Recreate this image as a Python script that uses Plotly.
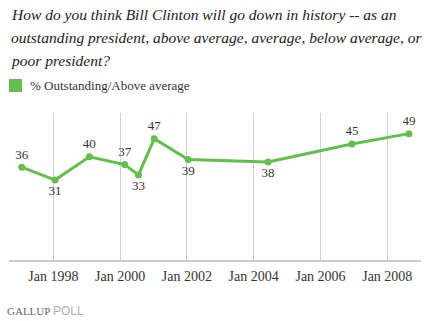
import plotly.graph_objects as go

dates = ["1997-01-20", "1998-01-20", "1999-01-30", "2000-02-20", "2000-07-20",
         "2001-01-08", "2002-01-15", "2004-06-07", "2006-12-10", "2008-08-25"]
values = [36, 31, 40, 37, 33, 47, 39, 38, 45, 49]
label_pos = ["top center", "bottom center", "top center", "top center", "bottom center",
             "top center", "bottom center", "bottom center", "top center", "top center"]
series_name = "% Outstanding/Above average"
title_lines = ["How do you think Bill Clinton will go down in history -- as an",
               "outstanding president, above average, average, below average, or",
               "poor president?"]

GREEN = "#63be4f"
SERIF = "Liberation Serif"

W, H = 434, 321
L, R, T, B = 9, 13, 113, 61
PW, PH = W - L - R, H - T - B

def px_x(px):
    return (px - L) / PW

def px_y(py):
    return (H - B - py) / PH

fig = go.Figure()
fig.add_trace(go.Scatter(
    x=dates, y=values, mode="lines+markers+text",
    text=[str(v) for v in values], textposition=label_pos,
    textfont=dict(family=SERIF, size=13, color="#333333"),
    line=dict(color=GREEN, width=3),
    marker=dict(color=GREEN, size=7),
    name=series_name, showlegend=False, cliponaxis=False,
))

annotations = []
for i, line in enumerate(title_lines):
    annotations.append(dict(
        text="<i>" + line + "</i>", xref="paper", yref="paper",
        x=px_x(9), y=px_y(15 + 22.5 * i), xanchor="left", yanchor="middle",
        showarrow=False, font=dict(family=SERIF, size=15.5, color="#222222"),
    ))
annotations.append(dict(
    text=series_name, xref="paper", yref="paper",
    x=px_x(28), y=px_y(85), xanchor="left", yanchor="middle",
    showarrow=False, font=dict(family=SERIF, size=13, color="#333333"),
))
annotations.append(dict(
    text="GALLUP", xref="paper", yref="paper", x=px_x(5), y=px_y(310.5),
    xanchor="left", yanchor="middle", showarrow=False,
    font=dict(family=SERIF, size=11, color="#666666"),
))
annotations.append(dict(
    text="POLL", xref="paper", yref="paper", x=px_x(51), y=px_y(310.5),
    xanchor="left", yanchor="middle", showarrow=False,
    font=dict(family="Liberation Sans", size=12, color="#b0b0b0"),
))

fig.update_layout(
    width=W, height=H,
    margin=dict(l=L, r=R, t=T, b=B),
    paper_bgcolor="white", plot_bgcolor="white",
    annotations=annotations,
    shapes=[dict(type="rect", xref="paper", yref="paper",
                 x0=px_x(9), x1=px_x(22), y0=px_y(79), y1=px_y(92),
                 fillcolor=GREEN, line=dict(width=0))],
    xaxis=dict(
        type="date", range=["1996-09-03", "2009-01-04"],
        tick0="1998-01-01", dtick="M24", tickformat="%b %Y",
        showgrid=True, gridcolor="#d0d0d0", gridwidth=1,
        showline=True, linecolor="#cccccc", linewidth=2,
        ticks="outside", ticklen=2, tickcolor="rgba(0,0,0,0)",
        tickfont=dict(family=SERIF, size=14, color="#333333"),
        zeroline=False, fixedrange=True,
    ),
    yaxis=dict(range=[0, 57], showgrid=False, showticklabels=False,
               zeroline=False, showline=False, fixedrange=True),
)

fig.write_html("out.html")
